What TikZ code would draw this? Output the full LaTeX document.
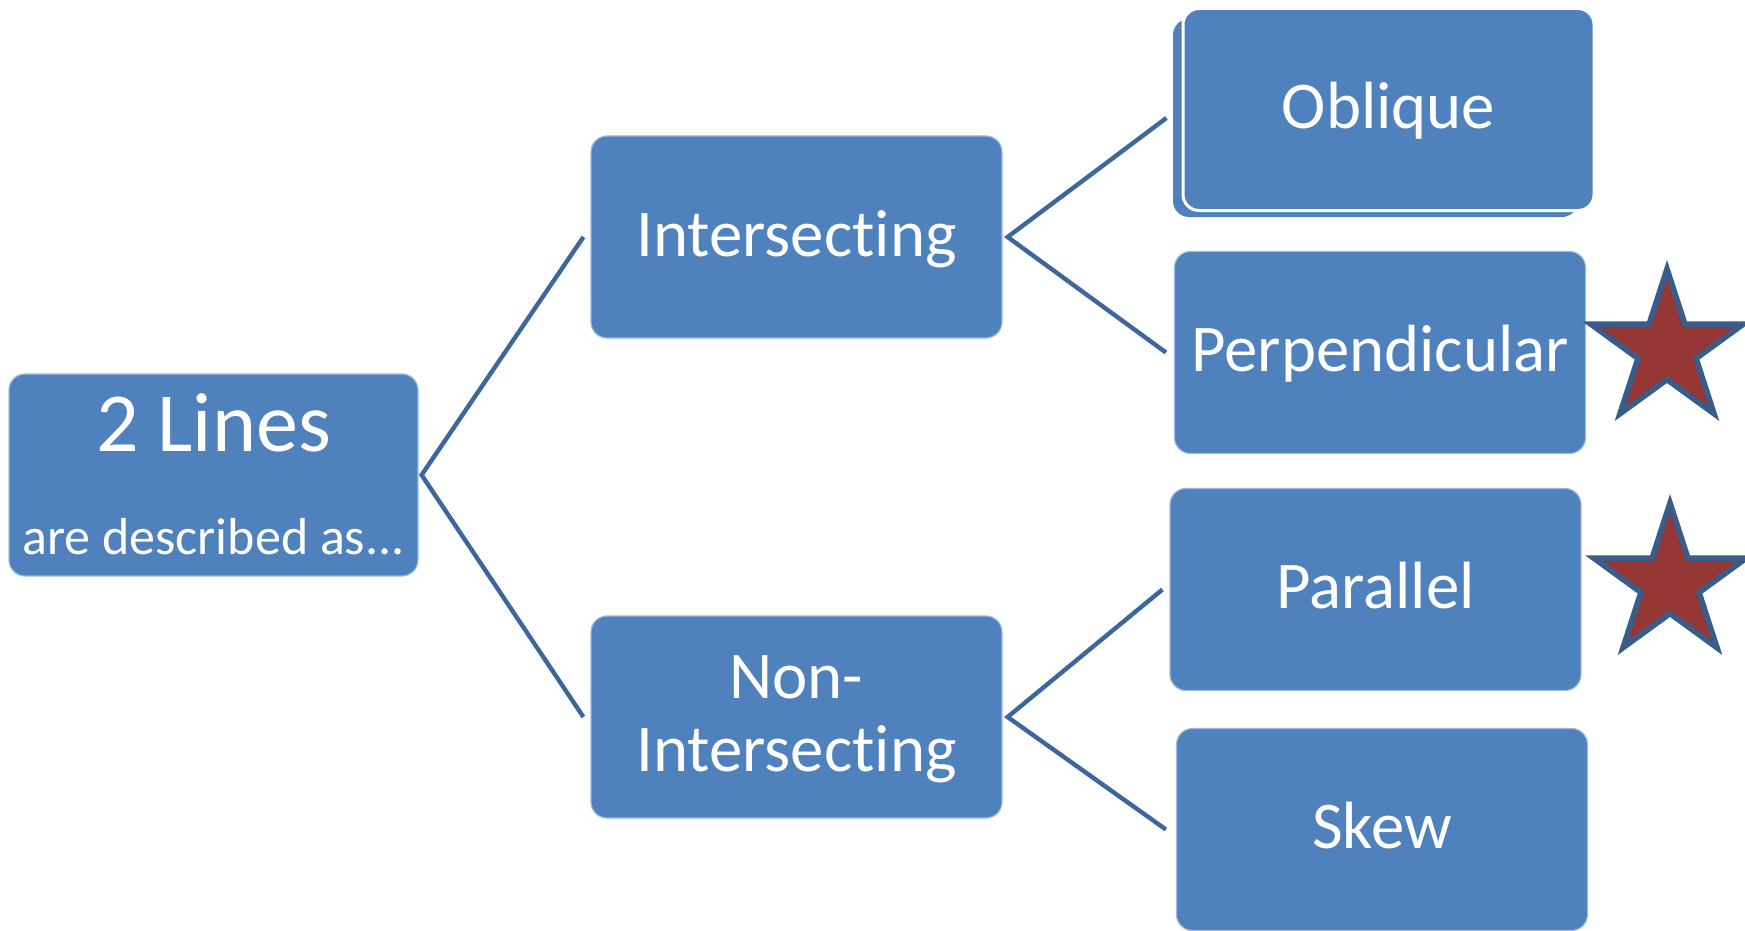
\documentclass[tikz,border=0pt]{standalone}
\usepackage{fontspec}
\setmainfont{Carlito}[Ligatures=NoCommon]
\usetikzlibrary{shapes.geometric}
\definecolor{boxblue}{HTML}{4F81BD}
\definecolor{linkblue}{HTML}{3C679C}
\definecolor{starred}{HTML}{943634}
\definecolor{staredge}{HTML}{385D8A}
\tikzset{every picture/.style={line width=0.75pt}}

\begin{document}
\begin{tikzpicture}[x=0.5pt,y=-0.5pt,
		box/.style={shape=rectangle, rounded corners=8pt, fill=boxblue,
			draw=boxblue!55!white, line width=0.6pt, text=white, inner sep=0pt,
			minimum width=205.5pt, minimum height=101pt, align=center,
			font=\fontsize{33.4}{36.5}\selectfont, text height=19pt, text depth=0pt},
		link/.style={draw=linkblue, line width=2.2pt, line join=miter},
		starmark/.style={star, star points=5, star point ratio=2.618, minimum size=80pt,
			inner sep=0pt, fill=starred, draw=staredge, line width=2.8pt}
	]
	\useasboundingbox (0,0) rectangle (1745,931);
	% root
	\node[box, minimum width=204.5pt] (root) at (213.5,475) {};
	\node[text=white, anchor=base, font=\fontsize{42}{42}\selectfont] (rootA) at (213.5,451) {2 Lines};
	\node[text=white, anchor=base, font=\fontsize{26}{26}\selectfont] (rootB) at (213.5,554) {are described as...};
	% second level
	\node[box] (inter) at (796.5,237) {Intersecting};
	\node[box, text height=54pt] (non) at (796.5,717) {Non-\\Intersecting};
	% third level
	\node[box, draw=none, minimum width=202.5pt, minimum height=99pt] (oblback) at (1375.5,118) {};
	\node[box, draw=white, line width=1.5pt] (obl) at (1388.5,109.5) {Oblique};
	\node[box] (perp) at (1380,352.5) {Perpendicular};
	\node[box] (par) at (1375.5,589.5) {Parallel};
	\node[box] (skew) at (1382,829.5) {Skew};
	\node[starmark] (star1) at (1667,349) {};
	\node[starmark] (star2) at (1670,583) {};
	% connectors
	\draw[link] ([xshift=-3.5pt]inter.west) -- ([xshift=1.5pt]root.east) -- ([xshift=-3.5pt]non.west);
	\draw[link] ([xshift=-3pt]oblback.west) -- ([xshift=2.5pt]inter.east) -- ([xshift=-4pt]perp.west);
	\draw[link] ([xshift=-3.5pt]par.west) -- ([xshift=2.5pt]non.east) -- ([xshift=-5pt]skew.west);
\end{tikzpicture}
\end{document}
